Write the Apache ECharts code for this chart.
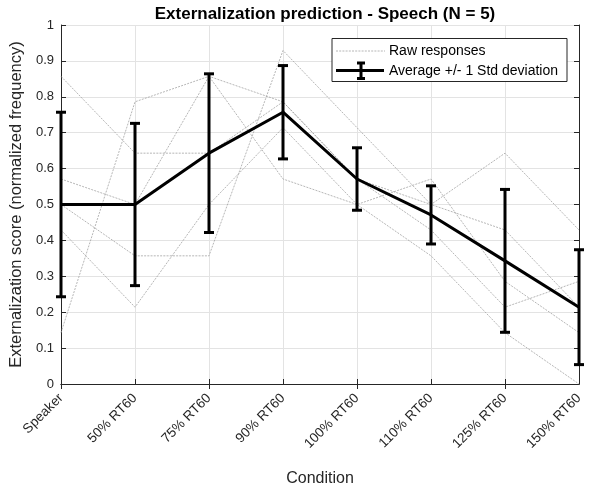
<!DOCTYPE html>
<html>
<head>
<meta charset="utf-8">
<script src="https://cdn.jsdelivr.net/npm/echarts@6/dist/echarts.min.js"></script>
<style>
html,body{margin:0;padding:0;background:#fff;}
#chart{width:592px;height:492px;}
</style>
</head>
<body>
<div id="chart"></div>
<script>
// ---- data ----
var categories = ['Speaker', '50% RT60', '75% RT60', '90% RT60', '100% RT60', '110% RT60', '125% RT60', '150% RT60'];
var raw1 = [0.857, 0.643, 0.643, 0.786, 0.571, 0.500, 0.429, 0.214];
var raw2 = [0.571, 0.500, 0.857, 0.571, 0.500, 0.571, 0.286, 0.143];
var raw3 = [0.500, 0.357, 0.357, 0.929, 0.714, 0.500, 0.643, 0.429];
var raw4 = [0.429, 0.214, 0.500, 0.714, 0.500, 0.357, 0.143, 0.000];
var raw5 = [0.143, 0.786, 0.857, 0.786, 0.571, 0.429, 0.214, 0.286];
var meanValues = [0.500, 0.500, 0.643, 0.757, 0.571, 0.471, 0.343, 0.214];
var stdValues = [0.257, 0.226, 0.221, 0.130, 0.087, 0.081, 0.199, 0.160];
var yTicks = [0, 0.1, 0.2, 0.3, 0.4, 0.5, 0.6, 0.7, 0.8, 0.9, 1];

var FONT = '"Liberation Sans", Arial, Helvetica, sans-serif';
var AX = '#262626';
var GRID = '#e3e3e3';

var rawSeries = [raw1, raw2, raw3, raw4, raw5].map(function (d) {
  return {
    type: 'line', name: 'Raw responses', data: d, symbol: 'none', silent: true,
    xAxisIndex: 0, yAxisIndex: 0, z: 2,
    lineStyle: { color: '#a3a3a3', width: 0.8, type: [2, 1.2] }
  };
});

var errData = meanValues.map(function (m, i) {
  return [i, m - stdValues[i], m + stdValues[i]];
});

var chart = echarts.init(document.getElementById('chart'), null, { renderer: 'canvas' });
chart.setOption({
  animation: false,
  backgroundColor: '#fff',
  textStyle: { fontFamily: FONT },
  title: {
    text: 'Externalization prediction - Speech (N = 5)',
    left: 320, top: 1, textAlign: 'center',
    textStyle: { fontFamily: FONT, fontSize: 17, fontWeight: 'bold', color: '#000' }
  },
  grid: { left: 61, top: 25, right: 13, bottom: 104, containLabel: false },
  xAxis: [{
    type: 'category', data: categories, boundaryGap: false,
    name: 'Condition', nameLocation: 'middle', nameGap: 87,
    nameTextStyle: { fontFamily: FONT, fontSize: 16, color: AX },
    axisLine: { show: true, lineStyle: { color: AX, width: 1 } },
    axisTick: { show: true, inside: true, length: 5, alignWithLabel: true, lineStyle: { color: AX } },
    axisLabel: { rotate: 45, fontSize: 13.5, color: AX, margin: 12, fontFamily: FONT },
    splitLine: { show: true, lineStyle: { color: GRID, width: 1 } }
  }, {
    type: 'category', data: categories, boundaryGap: false, position: 'top',
    axisLine: { show: true, lineStyle: { color: AX, width: 1 } },
    axisTick: { show: true, inside: true, length: 5, alignWithLabel: true, lineStyle: { color: AX } },
    axisLabel: { show: false }, splitLine: { show: false }
  }],
  yAxis: [{
    type: 'value', min: 0, max: 1, interval: 0.1,
    name: 'Externalization score (normalized frequency)', nameLocation: 'middle', nameGap: 34,
    nameTextStyle: { fontFamily: FONT, fontSize: 16.5, color: AX },
    axisLine: { show: true, lineStyle: { color: AX, width: 1 } },
    axisTick: { show: true, inside: true, length: 5, lineStyle: { color: AX } },
    axisLabel: {
      fontSize: 13, color: AX, margin: 7, fontFamily: FONT,
      formatter: function (v) {
        var r = Math.round(v * 10) / 10;
        var idx = yTicks.indexOf(r);
        return idx >= 0 ? String(yTicks[idx]) : '';
      }
    },
    splitLine: { show: true, lineStyle: { color: GRID, width: 1 } }
  }, {
    type: 'value', min: 0, max: 1, interval: 0.1, position: 'right',
    axisLine: { show: true, lineStyle: { color: AX, width: 1 } },
    axisTick: { show: true, inside: true, length: 5, lineStyle: { color: AX } },
    axisLabel: { show: false }, splitLine: { show: false }
  }],
  series: rawSeries.concat([
    {
      type: 'line', name: 'Average +/- 1 Std deviation', data: meanValues, symbol: 'none', silent: true,
      xAxisIndex: 0, yAxisIndex: 0, z: 5,
      lineStyle: { color: '#000', width: 3 }
    },
    {
      type: 'custom', name: 'err', data: errData, xAxisIndex: 0, yAxisIndex: 0, z: 6, silent: true,
      renderItem: function (params, api) {
        var x = api.value(0);
        var lo = api.coord([x, api.value(1)]);
        var hi = api.coord([x, api.value(2)]);
        var hw = 5;
        var st = { stroke: '#000', lineWidth: 3 };
        return {
          type: 'group',
          children: [
            { type: 'line', shape: { x1: lo[0], y1: lo[1], x2: hi[0], y2: hi[1] }, style: st },
            { type: 'line', shape: { x1: lo[0] - hw, y1: lo[1], x2: lo[0] + hw, y2: lo[1] }, style: st },
            { type: 'line', shape: { x1: hi[0] - hw, y1: hi[1], x2: hi[0] + hw, y2: hi[1] }, style: st }
          ]
        };
      }
    }
  ]),
  graphic: [
    { type: 'rect', z: 100, shape: { x: 332, y: 38.5, width: 235, height: 43 },
      style: { fill: '#fff', stroke: AX, lineWidth: 1 } },
    { type: 'line', z: 101, shape: { x1: 336, y1: 51, x2: 385, y2: 51 },
      style: { stroke: '#a3a3a3', lineWidth: 0.8, lineDash: [2, 1.2] } },
    { type: 'text', z: 101, style: { x: 389, y: 51.5, text: 'Raw responses', fill: '#000',
      font: '14px ' + FONT, textVerticalAlign: 'middle', verticalAlign: 'middle' } },
    { type: 'line', z: 101, shape: { x1: 336, y1: 70.5, x2: 384, y2: 70.5 },
      style: { stroke: '#000', lineWidth: 3 } },
    { type: 'line', z: 101, shape: { x1: 361, y1: 63, x2: 361, y2: 78.5 },
      style: { stroke: '#000', lineWidth: 3 } },
    { type: 'line', z: 101, shape: { x1: 357, y1: 63, x2: 365, y2: 63 },
      style: { stroke: '#000', lineWidth: 3 } },
    { type: 'line', z: 101, shape: { x1: 357, y1: 78.5, x2: 365, y2: 78.5 },
      style: { stroke: '#000', lineWidth: 3 } },
    { type: 'text', z: 101, style: { x: 389, y: 71.5, text: 'Average +/- 1 Std deviation', fill: '#000',
      font: '14px ' + FONT, textVerticalAlign: 'middle', verticalAlign: 'middle' } }
  ]
});
</script>
</body>
</html>
